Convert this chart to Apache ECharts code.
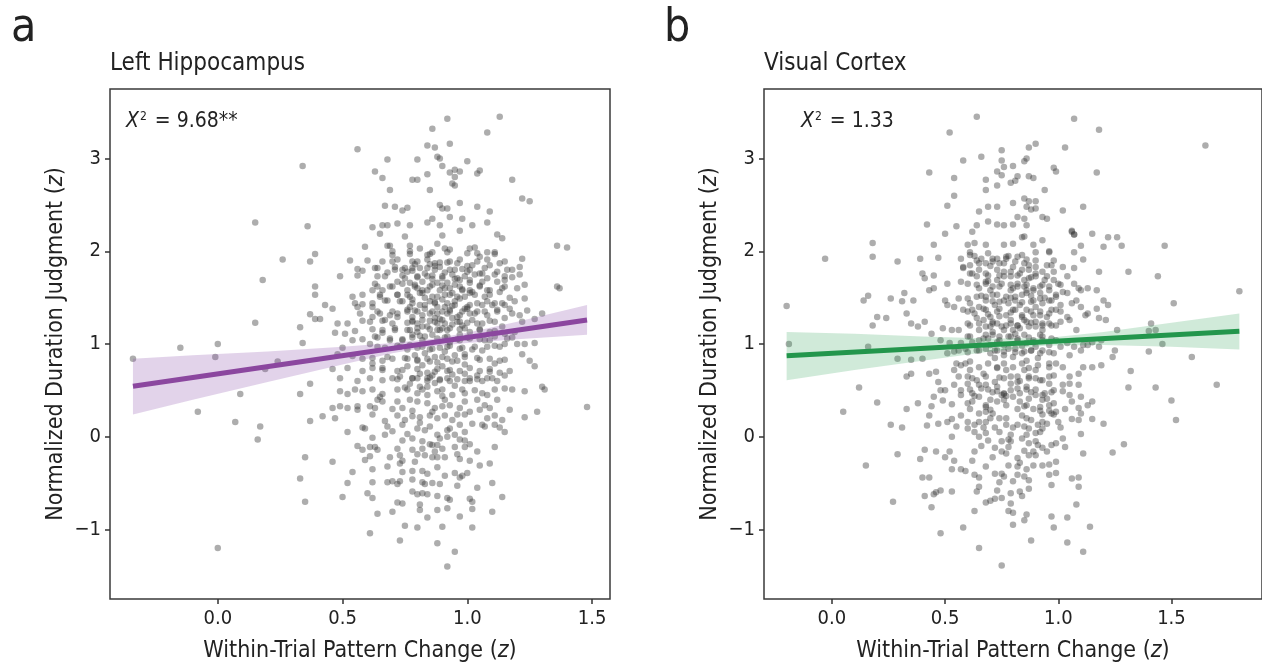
<!DOCTYPE html>
<html>
<head>
<meta charset="utf-8">
<script src="https://cdn.jsdelivr.net/npm/echarts@6/dist/echarts.min.js"></script>
<style>
html,body{margin:0;padding:0;background:#fff;}
#chart{width:1262px;height:668px;}
</style>
</head>
<body>
<div id="chart"></div>
<script>
// ---------- Data ----------
var xTicks = [0, 0.5, 1, 1.5];
var yTicks = [-1, 0, 1, 2, 3];

var hippoPoints = [
[-0.34,0.84],[-0.15,0.96],[0.00,1.00],[-0.01,0.86],[-0.08,0.27],[0.07,0.16],[0.00,-1.20],[0.09,0.46],[0.15,2.31],[0.15,1.23],
[0.18,1.69],[0.17,0.11],[0.16,-0.03],[0.19,0.73],[0.24,0.81],[0.26,1.91],[0.34,2.92],[0.36,2.27],[0.33,1.18],[0.34,1.01],
[0.33,0.46],[0.37,0.17],[0.37,0.57],[0.35,-0.22],[0.33,-0.45],[0.35,-0.70],[0.39,1.97],[0.37,1.89],[0.39,1.62],[0.39,1.53],
[0.37,1.32],[0.39,1.27],[0.41,1.27],[0.43,1.42],[0.42,0.22],
[0.56,3.10],[0.63,2.86],[0.66,2.79],[0.68,2.99],[0.69,2.66],[0.67,2.49],[0.71,2.48],[0.74,2.44],[0.76,2.47],[0.66,2.28],
[0.68,2.28],[0.62,2.26],[0.72,2.30],[0.65,2.19],[0.75,2.16],[0.77,2.28],[0.80,2.99],[0.78,2.77],[0.80,2.77],[0.84,3.14],
[0.87,3.12],[0.86,3.32],[0.92,3.43],[0.93,3.16],[0.88,3.02],[0.89,3.00],[0.90,2.92],[0.84,2.83],[0.85,2.66],[0.93,2.85],
[0.95,2.88],[0.97,2.86],[0.95,2.80],[1.00,2.97],[0.94,2.73],[0.95,2.71],[1.04,2.84],[1.05,2.87],[1.08,3.28],[1.13,3.45],
[1.18,2.77],[1.22,2.57],[1.25,2.54],[1.36,2.06],[1.40,2.04],[1.09,2.43],[1.04,2.48],[0.97,2.52],[0.89,2.50],[0.90,2.46],
[0.92,2.46],[0.93,2.37],[0.98,2.35],[1.08,2.31],[1.12,2.18],[1.14,2.14],[1.02,2.28],[0.86,2.35],[0.84,2.31],[0.90,2.17],
[0.89,2.28],[0.97,2.22],
[1.36,1.62],[1.37,1.60],[1.30,1.33],[1.27,1.27],[1.27,1.01],[1.27,0.76],[1.30,0.54],[1.31,0.51],[1.48,0.32],[1.28,0.27],
[1.02,-0.98],[0.97,-0.86],[0.95,-1.24],[0.92,-1.40],[0.88,-1.15],[0.90,-0.97],[0.84,-0.87],[0.80,-0.98],[0.75,-0.96],[0.73,-1.12],
[0.61,-1.04],[0.70,-0.81],[1.10,-0.81],
[0.59,2.05],[0.68,2.06],[0.69,2.06],[0.77,2.06],[0.81,2.03],[0.88,2.08],[0.91,2.03],[0.93,2.02],[1.01,2.03],[1.03,2.04],
[1.04,1.98],[1.08,1.99],[1.11,1.97],[1.22,1.92],[0.85,1.97],[0.86,1.99],[0.77,1.97],[0.70,1.96],
[0.53,1.90],[0.60,1.90],[0.66,1.89],[0.70,1.89],[0.78,1.89],[0.84,1.91],[0.85,1.86],[0.89,1.88],[0.92,1.88],[0.96,1.87],
[1.00,1.84],[1.04,1.89],[1.08,1.91],[1.15,1.89],[0.56,1.81],[0.58,1.79],[0.63,1.82],[0.71,1.80],[0.74,1.80],[0.76,1.78],
[0.78,1.79],[0.81,1.82],[0.87,1.80],[0.93,1.80],[0.98,1.81],[1.01,1.80],[1.07,1.82],[1.18,1.80],[1.21,1.83],
[0.49,1.73],[0.56,1.74],[0.64,1.73],[0.68,1.77],[0.75,1.71],[0.80,1.72],[0.84,1.73],[0.86,1.70],[0.90,1.73],[0.94,1.75],
[0.99,1.73],[1.03,1.75],[1.06,1.76],[1.11,1.75],[1.15,1.73],[1.18,1.72],[1.21,1.75],[0.72,1.67],[0.77,1.66],[0.82,1.67],
[0.88,1.66],[0.92,1.66],[0.97,1.69],[1.01,1.66],[1.12,1.67],[1.06,1.67],
[0.64,1.62],[0.66,1.58],[0.62,1.58],[0.70,1.62],[0.76,1.58],[0.80,1.60],[0.85,1.62],[0.89,1.58],[0.93,1.60],[0.97,1.62],
[1.01,1.58],[1.05,1.63],[1.08,1.58],[1.15,1.62],[1.20,1.60],[1.23,1.64],[0.54,1.51],[0.58,1.53],[0.65,1.51],[0.72,1.53],
[0.77,1.51],[0.82,1.55],[0.86,1.51],[0.91,1.53],[0.96,1.51],[1.01,1.55],[1.03,1.53],[1.09,1.53],[1.17,1.50],
[0.55,1.44],[0.58,1.43],[0.56,1.40],[0.62,1.40],[0.67,1.47],[0.74,1.46],[0.77,1.40],[0.81,1.42],[0.85,1.46],[0.88,1.40],
[0.92,1.44],[0.95,1.46],[0.99,1.38],[1.01,1.42],[1.06,1.42],[1.08,1.46],[1.11,1.44],[1.15,1.42],[1.19,1.46],[1.23,1.49],
[0.46,1.38],
[0.57,1.33],[0.65,1.33],[0.69,1.31],[0.72,1.33],[0.76,1.35],[0.78,1.29],[0.82,1.31],[0.86,1.35],[0.89,1.27],[0.92,1.33],
[0.97,1.31],[1.01,1.33],[1.04,1.35],[1.08,1.31],[1.12,1.35],[1.18,1.33],[1.21,1.31],[1.24,1.36],[0.52,1.22],[0.48,1.22],
[0.58,1.25],[0.61,1.24],[0.66,1.25],[0.70,1.22],[0.76,1.23],[0.80,1.22],[0.85,1.25],[0.88,1.22],[0.91,1.22],[0.96,1.24],
[1.00,1.23],[1.04,1.22],[1.09,1.25],[1.22,1.24],
[0.47,1.12],[0.51,1.11],[0.55,1.14],[0.62,1.16],[0.66,1.12],[0.71,1.15],[0.77,1.15],[0.80,1.13],[0.85,1.16],[0.88,1.15],
[0.92,1.15],[0.97,1.16],[1.01,1.13],[1.05,1.16],[1.11,1.14],[1.15,1.11],[1.18,1.07],[1.19,1.13],[0.54,1.04],[0.58,1.05],
[0.64,1.07],[0.69,1.04],[0.74,1.05],[0.78,1.07],[0.82,1.04],[0.91,1.07],[0.96,1.05],[1.00,1.07],[1.05,1.05],[1.09,1.04],
[0.50,0.96],[0.61,1.00],[0.67,0.96],[0.72,0.98],[0.76,0.94],[0.80,0.96],[0.85,0.94],[0.89,0.96],[0.93,0.98],[0.98,0.96],
[1.02,0.94],[1.06,0.93],[1.11,0.98],[1.15,1.00],[1.20,1.00],[1.23,1.00],[0.48,0.89],[0.54,0.87],
[0.58,0.84],[0.62,0.85],[0.66,0.82],[0.70,0.84],[0.75,0.85],[0.80,0.82],[0.84,0.84],[0.88,0.80],[0.92,0.84],[0.96,0.82],
[0.99,0.89],[1.04,0.85],[1.09,0.84],[1.13,0.82],[1.22,0.89],[1.25,0.82],
[0.46,0.73],[0.52,0.74],[0.58,0.71],[0.62,0.74],[0.66,0.74],[0.72,0.71],[0.76,0.76],[0.80,0.73],[0.84,0.69],[0.88,0.73],
[0.92,0.71],[0.97,0.71],[1.01,0.74],[1.05,0.71],[1.09,0.73],[1.13,0.69],[1.17,0.71],[0.49,0.63],[0.56,0.60],[0.61,0.63],
[0.66,0.61],[0.72,0.62],[0.78,0.63],[0.84,0.60],[0.89,0.62],[0.93,0.60],[0.99,0.60],[1.04,0.62],[1.08,0.63],[1.12,0.60],
[0.73,0.65],[0.80,0.63],[0.85,0.64],[0.89,0.61],[0.81,0.54],[0.87,0.58],[0.96,0.62],[1.01,0.60],[1.06,0.60],[1.10,0.63],
[0.49,0.49],[0.52,0.46],[0.55,0.51],[0.58,0.49],[0.62,0.51],[0.64,0.40],[0.65,0.43],[0.66,0.46],[0.72,0.51],[0.75,0.53],
[0.76,0.51],[0.80,0.47],[0.82,0.51],[0.84,0.54],[0.88,0.49],[0.90,0.51],[0.94,0.45],[0.98,0.51],[0.99,0.47],[1.03,0.50],
[1.06,0.47],[1.08,0.45],[1.11,0.51],[1.15,0.52],[1.18,0.51],[1.23,0.49],
[0.46,0.31],[0.49,0.33],[0.52,0.31],[0.56,0.33],[0.61,0.33],[0.63,0.31],[0.66,0.38],[0.72,0.38],[0.74,0.31],[0.77,0.40],
[0.80,0.38],[0.84,0.36],[0.87,0.31],[0.90,0.33],[0.93,0.34],[0.97,0.31],[0.99,0.38],[1.04,0.40],[1.07,0.34],[1.09,0.31],
[1.12,0.40],[1.17,0.29],[0.47,0.20],
[0.56,0.29],[0.62,0.24],[0.67,0.17],[0.72,0.23],[0.75,0.18],[0.78,0.22],[0.81,0.21],[0.85,0.23],[0.88,0.20],[0.91,0.23],
[0.96,0.24],[0.99,0.24],[1.01,0.27],[1.05,0.29],[1.08,0.20],[1.11,0.23],[1.14,0.18],[1.23,0.21],
[0.52,0.05],[0.58,0.10],[0.59,0.09],[0.68,0.11],[0.74,0.13],[0.76,0.03],[0.80,0.09],[0.83,0.07],[0.85,0.11],[0.88,0.02],
[0.92,0.07],[0.93,0.09],[0.97,0.13],[0.99,0.05],[1.02,0.14],[1.06,0.13],[1.07,0.11],[1.11,0.13],[1.13,0.10],[1.15,0.05],
[0.62,-0.01],[0.67,0.02],[0.74,-0.04],[0.78,-0.02],[0.82,-0.05],[0.85,-0.08],[0.89,-0.02],[0.92,0.00],[0.97,-0.03],[0.99,-0.04],
[1.01,-0.08],[0.56,-0.10],[0.58,-0.14],[0.61,-0.11],[0.63,-0.11],[0.64,-0.14],[0.72,-0.13],[0.78,-0.14],[0.82,-0.13],[0.86,-0.09],
[0.88,-0.09],[0.90,-0.13],[0.95,-0.11],[0.99,-0.11],[1.04,-0.16],[1.11,-0.11],
[0.59,-0.25],[0.61,-0.21],[0.69,-0.22],[0.73,-0.20],[0.74,-0.26],[0.80,-0.19],[0.83,-0.20],[0.86,-0.22],[0.88,-0.22],[0.91,-0.22],
[0.96,-0.19],[0.97,-0.24],[1.01,-0.26],[1.05,-0.31],[1.09,-0.29],[0.46,-0.27],
[0.54,-0.38],[0.62,-0.35],[0.68,-0.32],[0.73,-0.29],[0.74,-0.38],[0.78,-0.37],[0.82,-0.37],[0.84,-0.40],[0.88,-0.33],[0.91,-0.42],
[0.95,-0.39],[0.98,-0.42],[1.00,-0.39],
[0.52,-0.50],[0.62,-0.49],[0.68,-0.49],[0.70,-0.48],[0.72,-0.51],[0.73,-0.48],[0.78,-0.46],[0.82,-0.49],[0.83,-0.51],[0.86,-0.50],
[0.89,-0.51],[0.96,-0.53],[0.97,-0.44],[1.04,-0.55],[1.10,-0.50],
[0.50,-0.65],[0.60,-0.61],[0.62,-0.66],[0.72,-0.71],[0.74,-0.72],[0.78,-0.59],[0.80,-0.62],[0.82,-0.61],[0.84,-0.62],[0.88,-0.64],
[0.92,-0.66],[0.93,-0.68],[1.01,-0.67],[1.02,-0.70],[1.14,-0.65],
[0.64,-0.83],[0.81,-0.73],[0.81,-0.79],[0.88,-0.79],[0.92,-0.77],[1.02,-0.78],
[0.79,1.86],[0.83,1.76],[0.87,1.84],[0.91,1.77],[0.95,1.70],[0.79,1.64],[0.84,1.58],[0.90,1.63],[0.94,1.55],[0.98,1.59],
[0.78,1.48],[0.83,1.50],[0.87,1.45],[0.90,1.48],[0.94,1.41],[0.97,1.49],[0.79,1.36],[0.83,1.38],[0.88,1.33],[0.93,1.37],
[0.96,1.29],[1.00,1.38],[0.78,1.25],[0.82,1.19],[0.87,1.28],[0.90,1.17],[0.94,1.21],[0.98,1.20],[0.81,1.09],[0.86,1.10],
[0.93,1.02],[0.97,1.10],[0.79,0.88],[0.83,0.90],[0.87,0.86],[0.91,0.92],[0.95,0.88],[0.82,0.77],[0.86,0.66],[0.90,0.76],
[0.94,0.67],[0.99,0.78],[0.77,0.57],[0.84,0.45],[0.91,0.40],[0.95,0.55],
[0.70,2.00],[0.77,2.00],[0.84,1.96],[0.92,1.99],[1.00,1.98],[1.05,1.94],[1.11,1.99],[0.72,1.91],[0.80,1.89],[0.87,1.87],
[0.93,1.89],[0.97,1.91],[1.02,1.85],[1.09,1.85],[1.13,1.87],
[0.64,1.82],[0.71,1.83],[0.75,1.82],[0.78,1.82],[0.84,1.82],[0.89,1.83],[0.95,1.80],[1.00,1.78],[1.05,1.76],[1.12,1.78],
[1.16,1.80],[0.67,1.73],[0.74,1.74],[0.80,1.73],[0.86,1.74],[0.90,1.71],[0.96,1.71],[1.01,1.69],[1.08,1.71],[1.15,1.69],
[0.63,1.65],[0.69,1.62],[0.74,1.65],[0.79,1.62],[0.82,1.58],[0.86,1.64],[0.91,1.60],[0.95,1.64],[0.98,1.58],[1.02,1.56],
[1.05,1.62],[1.09,1.58],[1.14,1.60],[0.65,1.53],[0.72,1.53],[0.76,1.53],[0.81,1.55],[0.88,1.51],[0.93,1.53],[0.99,1.51],
[1.07,1.51],[1.13,1.56],
[0.62,1.44],[0.68,1.47],[0.73,1.46],[0.78,1.44],[0.83,1.42],[0.87,1.44],[0.91,1.40],[0.95,1.42],[1.00,1.40],[1.04,1.44],
[1.10,1.42],[1.14,1.44],[0.64,1.35],[0.70,1.35],[0.76,1.37],[0.80,1.35],[0.85,1.33],[0.90,1.35],[0.93,1.35],[0.98,1.35],
[1.03,1.33],[1.07,1.35],[1.12,1.37],[1.17,1.38],
[0.62,1.29],[0.67,1.26],[0.72,1.29],[0.78,1.24],[0.82,1.26],[0.87,1.24],[0.90,1.26],[0.94,1.28],[0.97,1.24],[1.02,1.26],
[1.06,1.22],[1.11,1.24],[1.15,1.28],[0.66,1.15],[0.71,1.17],[0.76,1.15],[0.80,1.17],[0.84,1.19],[0.89,1.15],[0.93,1.17],
[0.99,1.17],[1.05,1.15],[1.09,1.13],[1.14,1.19],
[0.63,1.08],[0.69,1.06],[0.74,1.04],[0.78,1.10],[0.83,1.08],[0.88,1.06],[0.92,1.08],[0.97,1.04],[1.01,1.06],[1.07,1.04],
[1.11,1.08],[1.16,1.06],[0.64,0.97],[0.73,0.97],[0.77,0.99],[0.82,0.97],[0.86,0.95],[0.92,0.97],[0.97,0.95],[1.03,0.97],
[1.08,0.97],[1.13,0.97],
[0.62,0.79],[0.68,0.86],[0.76,0.84],[0.80,0.83],[0.85,0.81],[0.90,0.86],[0.94,0.81],[0.99,0.86],[1.05,0.83],[1.11,0.79],
[1.15,0.83],[0.66,0.72],[0.74,0.72],[0.81,0.68],[0.87,0.70],[0.93,0.72],[0.99,0.68],[1.04,0.66],[1.09,0.70],[1.15,0.66],
[0.70,0.63],[0.78,0.63],[0.84,0.63],[0.92,0.63],[1.01,0.63],
[0.70,0.30],[0.78,0.28],[0.86,0.27],[0.94,0.18],[0.90,0.44],[0.81,0.15],[0.70,0.06],[0.95,0.02],[0.87,-0.16],[0.79,-0.27]
];

var visualPoints = [
[-0.20,1.41],[-0.19,1.00],[-0.03,1.92],[0.05,0.27],[0.12,0.53],[0.15,-0.31],[0.14,1.47],[0.16,1.52],[0.16,0.97],
[0.64,3.45],[0.52,3.28],[0.43,2.85],[0.54,2.79],[0.58,2.98],[0.66,3.02],[0.75,3.09],[0.75,2.98],[0.76,2.91],[0.73,2.86],
[0.75,2.82],[0.68,2.77],[0.73,2.71],[0.68,2.66],[0.79,2.74],[0.81,2.76],[0.82,2.81],[0.80,2.92],[0.85,2.97],[0.86,3.00],
[0.87,3.12],[0.90,3.16],[0.87,2.81],[0.89,2.79],[0.94,2.66],[0.98,2.90],[0.99,2.86],[1.03,3.12],[1.07,3.43],[1.18,3.31],
[1.17,2.85],[1.11,2.48],[1.02,2.44],[1.06,2.22],[1.07,2.18],[1.65,3.14],[0.51,2.49],[0.54,2.60],[0.42,2.29],[0.55,2.27],
[0.65,2.43],[0.69,2.48],[0.73,2.48],[0.80,2.52],[0.85,2.57],[0.87,2.54],[0.90,2.54],[0.86,2.48],[0.88,2.45],[0.90,2.46],
[0.82,2.37],[0.85,2.35],[0.93,2.37],[0.95,2.35],[0.69,2.32],[0.73,2.29],[0.76,2.28],[0.80,2.29],[0.86,2.28],[0.64,2.28],
[1.26,2.15],[1.28,2.06],[1.47,2.06],[1.44,1.73],[1.31,1.78],[1.51,1.44],[1.80,1.57],[1.41,1.22],[1.43,1.15],[1.40,1.14],
[1.46,1.00],[1.40,0.92],[1.26,1.15],[1.25,0.93],[1.24,0.86],[1.59,0.86],[1.32,0.71],[1.31,0.53],[1.43,0.53],[1.70,0.56],
[1.50,0.39],[1.52,0.18],[1.29,-0.08],[1.24,-0.17],
[0.65,-1.20],[0.75,-1.39],[1.11,-1.24],
[0.50,2.19],[0.62,2.21],[0.18,2.09],[0.45,2.07],[0.60,2.07],[0.63,2.09],[0.68,2.07],[0.76,2.07],[0.80,2.08],[0.84,2.15],
[0.85,2.16],[0.89,2.07],[0.93,2.12],[0.96,2.00],[1.06,2.21],[1.07,2.18],[1.15,2.19],[1.10,2.06],[1.20,2.05],[1.22,2.15],
[0.18,1.94],[0.29,1.89],[0.39,1.92],[0.47,1.93],[0.61,1.99],[0.63,1.95],[0.69,1.98],[0.73,1.92],[0.77,1.92],[0.82,1.94],
[0.85,1.87],[0.86,1.91],[0.90,1.99],[0.96,1.99],[0.97,1.85],[1.02,1.83],[1.07,1.99],[1.11,1.91],[1.18,1.78],[1.07,1.82],
[0.58,1.83],[0.61,1.85],[0.65,1.87],[0.70,1.84],[0.76,1.87],[0.80,1.83],[0.90,1.83],
[0.40,1.76],[0.45,1.74],[0.41,1.71],[0.51,1.65],[0.57,1.67],[0.61,1.76],[0.64,1.73],[0.68,1.76],[0.68,1.65],[0.73,1.69],
[0.76,1.78],[0.79,1.73],[0.82,1.74],[0.85,1.69],[0.87,1.80],[0.90,1.73],[0.93,1.78],[0.94,1.69],[0.98,1.69],[1.01,1.64],
[1.04,1.73],[1.07,1.65],[1.09,1.60],[1.10,1.58],[1.13,1.60],[1.17,1.58],[0.65,1.60],[0.70,1.58],[0.74,1.62],[0.79,1.64],
[0.82,1.62],[0.86,1.64],[0.89,1.60],[0.92,1.62],[0.96,1.58],[1.02,1.56],
[0.26,1.49],[0.32,1.55],[0.31,1.46],[0.36,1.47],[0.33,1.33],[0.43,1.58],[0.45,1.60],[0.50,1.47],[0.51,1.42],[0.56,1.49],
[0.60,1.49],[0.61,1.44],[0.65,1.40],[0.68,1.51],[0.71,1.46],[0.73,1.53],[0.76,1.47],[0.78,1.44],[0.81,1.51],[0.83,1.42],
[0.86,1.55],[0.89,1.47],[0.90,1.40],[0.93,1.44],[0.97,1.47],[0.99,1.53],[1.01,1.42],[1.04,1.55],[1.06,1.44],[1.08,1.47],
[1.10,1.40],[1.13,1.33],[1.17,1.38],[1.20,1.47],[1.22,1.42],[0.54,1.40],[0.58,1.37],[0.62,1.37],[0.68,1.37],[0.74,1.38],
[0.80,1.37],[0.86,1.37],[0.92,1.35],[0.97,1.37],[1.01,1.35],
[0.18,1.20],[0.20,1.29],[0.24,1.28],[0.35,1.22],[0.38,1.19],[0.41,1.24],[0.49,1.17],[0.53,1.15],[0.56,1.15],[0.60,1.22],
[0.64,1.28],[0.67,1.26],[0.70,1.19],[0.73,1.22],[0.76,1.15],[0.79,1.26],[0.82,1.20],[0.85,1.26],[0.87,1.19],[0.90,1.24],
[0.93,1.15],[0.96,1.22],[0.99,1.20],[1.04,1.29],[1.05,1.26],[1.08,1.15],[1.12,1.31],[1.18,1.28],[1.21,1.26],[0.65,1.15],
[0.71,1.13],[0.80,1.15],
[0.48,1.04],[0.52,1.01],[0.57,1.01],[0.61,1.08],[0.65,1.04],[0.69,1.06],[0.73,1.02],[0.76,0.99],[0.79,1.08],[0.82,1.04],
[0.86,1.01],[0.90,0.97],[0.93,1.04],[0.96,0.99],[0.99,1.04],[1.04,1.01],[1.07,0.97],[1.11,0.99],[1.15,1.02],[1.19,1.04],
[0.54,0.92],[0.59,0.95],[0.64,0.93],[0.68,0.95],[0.72,0.93],[0.76,0.92],[0.81,0.95],[0.85,0.92],[0.88,0.93],[0.93,0.93],
[0.98,0.90],[1.01,0.97],[1.05,0.88],[1.10,0.93],[1.13,0.99],[1.18,0.97],[0.44,1.11],[0.51,0.90],
[0.29,0.84],[0.35,0.83],[0.40,0.84],[0.33,0.65],[0.35,0.68],[0.43,0.68],[0.46,0.70],[0.47,0.59],[0.54,0.72],[0.55,0.79],
[0.59,0.79],[0.56,0.65],[0.61,0.72],[0.62,0.63],[0.67,0.68],[0.68,0.56],[0.73,0.75],[0.77,0.72],[0.82,0.65],[0.85,0.72],
[0.87,0.65],[0.90,0.72],[0.93,0.61],[0.96,0.79],[0.98,0.66],[1.02,0.75],[1.05,0.65],[1.09,0.68],[1.11,0.75],[1.15,0.75],
[1.19,0.77],[1.05,0.57],[0.96,0.57],[0.86,0.54],[0.79,0.57],[0.73,0.54],[0.65,0.56],[0.60,0.57],[0.54,0.56],[1.02,0.56],
[1.09,0.56],
[0.20,0.37],[0.33,0.30],[0.38,0.36],[0.45,0.43],[0.49,0.39],[0.53,0.35],[0.44,0.33],[0.43,0.23],[0.47,0.14],[0.51,0.16],
[0.53,0.19],[0.57,0.23],[0.60,0.36],[0.63,0.44],[0.65,0.43],[0.57,0.45],[0.50,0.50],[0.48,0.50],[0.61,0.51],[0.69,0.51],
[0.73,0.49],[0.76,0.47],[0.82,0.52],[0.86,0.51],[0.90,0.51],[0.94,0.47],[0.95,0.41],[0.97,0.48],[1.02,0.49],[1.05,0.45],
[1.10,0.43],[1.15,0.38],[1.13,0.34],[1.09,0.31],[1.10,0.25],[1.06,0.19],[1.09,0.18],[1.15,0.19],[1.20,0.14],[1.10,0.03],
[1.11,-0.18],[1.03,-0.11],[1.02,-0.02],[0.99,-0.07],[0.97,-0.09],[0.95,-0.16],[1.01,0.10],[1.00,0.16],[0.98,0.24],[0.96,0.28],
[0.93,0.24],[0.93,0.16],[0.93,0.09],[0.91,-0.09],[0.90,0.04],[0.87,-0.07],[0.86,0.02],[0.85,0.11],[0.86,0.20],[0.84,0.23],
[0.82,0.13],[0.82,0.30],[0.86,0.34],[0.89,0.30],[0.92,0.32],[0.79,0.02],[0.78,-0.11],[0.78,-0.03],[0.75,-0.05],[0.72,-0.12],
[0.75,-0.16],[0.69,-0.04],[0.68,0.04],[0.67,0.10],[0.65,0.00],[0.72,0.10],[0.74,0.20],[0.77,0.13],[0.77,0.20],[0.68,0.16],
[0.65,0.16],[0.63,0.13],[0.60,0.09],[0.55,0.11],[0.53,0.00],[0.63,0.05],[0.68,0.27],[0.68,0.32],[0.71,0.25],[0.65,0.25],
[0.61,0.30],[0.60,0.16],[0.77,0.34],[0.76,0.40],[0.70,0.40],[0.26,0.13],[0.31,0.10],[0.42,0.12],
[0.29,-0.19],[0.39,-0.24],[0.41,-0.14],[0.46,-0.16],[0.50,-0.22],[0.52,-0.16],[0.54,-0.26],[0.53,-0.35],[0.57,-0.35],[0.59,-0.37],
[0.62,-0.26],[0.63,-0.16],[0.68,-0.32],[0.63,-0.41],[0.65,-0.44],[0.75,-0.40],[0.76,-0.43],[0.74,-0.49],[0.78,-0.31],[0.82,-0.23],
[0.83,-0.28],[0.87,-0.20],[0.89,-0.31],[0.90,-0.20],[0.82,-0.41],[0.85,-0.43],[0.87,-0.47],[0.93,-0.31],[0.99,-0.27],[0.96,-0.41],
[0.99,-0.39],[0.97,-0.52],[1.06,-0.45],[1.09,-0.44],[1.09,-0.54],[0.40,-0.44],[0.43,-0.44],[0.53,-0.59],[0.48,-0.58],[0.46,-0.60],
[0.45,-0.62],[0.41,-0.64],[0.27,-0.70],[0.44,-0.76],[0.64,-0.59],[0.65,-0.54],[0.73,-0.58],[0.79,-0.61],[0.83,-0.59],[0.84,-0.64],
[0.87,-0.56],[0.68,-0.71],[0.70,-0.69],[0.72,-0.67],[0.75,-0.66],[0.79,-0.72],[0.78,-0.80],[0.80,-0.82],[0.63,-0.80],[0.86,-0.84],
[0.85,-0.90],[0.80,-0.95],[0.97,-0.86],[1.04,-0.87],[1.08,-0.73],[1.14,-0.97],[0.98,-0.98],[0.88,-1.12],[1.04,-1.14],[0.58,-0.98],
[0.48,-1.04],[0.89,-0.16],[0.82,-0.32],
[0.68,0.34],[0.70,0.29],[0.73,0.38],[0.76,0.46],[0.80,0.43],[0.83,0.38],[0.87,0.41],[0.90,0.45],[0.93,0.40],[0.96,0.34],
[0.97,0.25],[0.99,0.27],[0.91,0.13],[0.87,0.09],[0.90,-0.05],[0.79,-0.05],
[0.66,1.92],[0.71,1.89],[0.78,1.95],[0.84,1.80],[0.88,1.72],[0.74,1.74],[0.69,1.68],[0.80,1.60],[0.86,1.58],[0.92,1.55],
[0.66,1.52],[0.72,1.42],[0.79,1.50],[0.84,1.45],[0.88,1.52],[0.94,1.50],[0.69,1.32],[0.74,1.30],[0.79,1.34],[0.84,1.31],
[0.89,1.31],[0.95,1.29],[0.71,1.22],[0.77,1.20],[0.83,1.17],[0.88,1.23],[0.93,1.20],[0.68,1.10],[0.74,1.08],[0.81,1.11],
[0.87,1.07],[0.92,1.10],[0.70,0.99],[0.78,0.95],[0.84,0.98],[0.89,1.02],[0.72,0.85],[0.80,0.86],[0.86,0.82],[0.91,0.85],
[0.74,0.64],[0.83,0.60],[0.90,0.63],[0.77,0.44],[0.85,0.33],[0.92,0.28],
[0.57,1.92],[0.61,1.96],[0.64,1.90],[0.68,1.87],[0.71,1.92],[0.74,1.87],[0.77,1.94],[0.81,1.89],[0.84,1.96],[0.87,1.85],
[0.90,1.90],[0.95,1.85],[0.98,1.90],
[0.58,1.82],[0.62,1.76],[0.65,1.80],[0.69,1.74],[0.73,1.80],[0.76,1.73],[0.79,1.78],[0.83,1.76],[0.87,1.71],[0.90,1.76],
[0.95,1.73],[0.98,1.78],
[0.60,1.65],[0.64,1.64],[0.68,1.67],[0.71,1.62],[0.75,1.65],[0.79,1.58],[0.82,1.65],[0.85,1.62],[0.89,1.58],[0.93,1.64],
[0.96,1.62],[1.00,1.65],
[0.64,1.51],[0.68,1.47],[0.71,1.53],[0.74,1.455],[0.77,1.51],[0.81,1.47],[0.84,1.53],[0.88,1.455],[0.92,1.49],[0.96,1.47],
[0.99,1.51],
[0.60,1.35],[0.63,1.33],[0.67,1.38],[0.70,1.29],[0.73,1.35],[0.77,1.31],[0.81,1.37],[0.84,1.29],[0.88,1.35],[0.92,1.31],
[0.96,1.33],[0.99,1.37],
[0.61,1.20],[0.65,1.22],[0.68,1.19],[0.71,1.24],[0.75,1.19],[0.79,1.22],[0.82,1.20],[0.86,1.24],[0.90,1.19],[0.93,1.22],
[0.97,1.20],[1.01,1.24],
[0.60,1.08],[0.62,1.02],[0.67,1.06],[0.71,1.10],[0.74,1.04],[0.78,1.08],[0.82,1.06],[0.85,1.10],[0.89,1.04],[0.93,1.08],
[0.97,1.06],
[0.56,0.93],[0.60,0.91],[0.65,0.93],[0.70,0.90],[0.73,0.93],[0.76,0.88],[0.81,0.91],[0.84,0.90],[0.88,0.93],[0.92,0.90],
[0.96,0.91],
[0.57,0.77],[0.61,0.81],[0.65,0.75],[0.69,0.79],[0.73,0.74],[0.76,0.79],[0.80,0.75],[0.84,0.79],[0.87,0.74],[0.91,0.77],
[0.96,0.75],[0.99,0.79],
[0.60,0.65],[0.64,0.61],[0.68,0.65],[0.72,0.59],[0.76,0.63],[0.79,0.65],[0.82,0.59],[0.87,0.63],[0.92,0.61],[0.96,0.65],
[0.57,0.50],[0.62,0.47],[0.66,0.52],[0.71,0.48],[0.75,0.45],[0.79,0.50],[0.83,0.47],[0.88,0.48],[0.93,0.45],[0.98,0.50],
[0.62,0.38],[0.70,0.20],[0.74,0.05],[0.80,0.10],[0.84,-0.02],[0.88,0.18],[0.92,0.05],[0.95,0.14],[0.98,0.36],[1.03,0.30],
[1.06,0.38],[0.66,-0.10],[0.71,-0.22],[0.77,-0.18],[0.85,-0.15],[0.93,-0.12],[0.96,-0.30],[0.86,-0.35],[0.80,-0.48],[0.72,-0.40]
];

// fitted lines (end points) and confidence bands
var hippoFitX = [-0.34, 1.48];
var hippoFitY = [0.544, 1.258];
var hippoBandX = [-0.34, -0.1, 0.2, 0.5, 0.7, 0.85, 1.0, 1.2, 1.48];
var hippoBandLow = [0.24, 0.40, 0.59, 0.78, 0.90, 0.97, 1.01, 1.05, 1.10];
var hippoBandHigh = [0.84, 0.88, 0.92, 0.97, 1.01, 1.05, 1.12, 1.24, 1.42];

var visualFitX = [-0.2, 1.8];
var visualFitY = [0.873, 1.138];
var visualBandX = [-0.2, 0.1, 0.4, 0.7, 0.95, 1.2, 1.5, 1.8];
var visualBandLow = [0.61, 0.72, 0.82, 0.92, 0.985, 0.99, 0.97, 0.94];
var visualBandHigh = [1.13, 1.11, 1.08, 1.06, 1.065, 1.13, 1.23, 1.33];

// ---------- Chart ----------
var FONT = "'Liberation Sans Narrow','DejaVu Sans Condensed','Roboto',sans-serif";
var chart = echarts.init(document.getElementById('chart'), null, {renderer: 'canvas'});

function yFmt(v){ return v < 0 ? '\u2212' + Math.abs(v) : String(v); }
function xFmt(v){ return Number(v).toFixed(1); }

function makeX(idx, min, max){
  return {
    type: 'value', gridIndex: idx, min: min, max: max,
    name: 'Within-Trial Pattern Change ({i|z})',
    nameLocation: 'middle', nameGap: 41,
    nameTextStyle: {fontFamily: FONT, fontSize: 23, color: '#222',
      rich: {i: {fontFamily: FONT, fontSize: 23, fontStyle: 'italic', color: '#222'}}},
    splitLine: {show: false},
    axisLine: {show: false, onZero: false},
    axisTick: {show: true, length: 5, inside: false, customValues: xTicks, lineStyle: {color: '#333', width: 1.5}},
    axisLabel: {show: true, margin: 10, customValues: xTicks, formatter: xFmt, fontFamily: FONT, fontSize: 20, color: '#222'}
  };
}
function makeY(idx){
  return {
    type: 'value', gridIndex: idx, min: -1.75, max: 3.75,
    name: 'Normalized Duration Judgment ({i|z})',
    nameLocation: 'middle', nameGap: 42, nameRotate: 90,
    nameTextStyle: {fontFamily: FONT, fontSize: 23, color: '#222',
      rich: {i: {fontFamily: FONT, fontSize: 23, fontStyle: 'italic', color: '#222'}}},
    splitLine: {show: false},
    axisLine: {show: false, onZero: false},
    axisTick: {show: true, length: 5, inside: false, customValues: yTicks, lineStyle: {color: '#333', width: 1.5}},
    axisLabel: {show: true, margin: 9, customValues: yTicks, formatter: yFmt, fontFamily: FONT, fontSize: 20, color: '#222'}
  };
}

function bandSeries(idx, bx, lo, hi, color){
  return {
    type: 'custom', xAxisIndex: idx, yAxisIndex: idx, z: 3, silent: true,
    data: [[bx[0], lo[0]]],
    renderItem: function(params, api){
      var pts = [];
      for (var i = 0; i < bx.length; i++) pts.push(api.coord([bx[i], hi[i]]));
      for (var j = bx.length - 1; j >= 0; j--) pts.push(api.coord([bx[j], lo[j]]));
      return {type: 'polygon', shape: {points: pts}, style: {fill: color}};
    }
  };
}
function pairs(xs, ys){ return xs.map(function(x, i){ return [x, ys[i]]; }); }

var pointStyle = {color: 'rgba(50,50,50,0.5)', borderWidth: 0};

var option = {
  animation: false,
  backgroundColor: '#fff',
  grid: [
    {left: 110, top: 89, width: 500, height: 510, show: true, borderColor: '#3a3a3a', borderWidth: 1.5, backgroundColor: 'transparent'},
    {left: 764, top: 89, width: 500, height: 510, show: true, borderColor: '#3a3a3a', borderWidth: 1.5, backgroundColor: 'transparent'}
  ],
  xAxis: [makeX(0, -0.432, 1.572), makeX(1, -0.3, 1.9)],
  yAxis: [makeY(0), makeY(1)],
  series: [
    {type: 'scatter', xAxisIndex: 0, yAxisIndex: 0, symbol: 'circle', symbolSize: 6.5, itemStyle: pointStyle, data: hippoPoints, z: 2, silent: true},
    bandSeries(0, hippoBandX, hippoBandLow, hippoBandHigh, 'rgba(140,80,170,0.25)'),
    {type: 'line', xAxisIndex: 0, yAxisIndex: 0, data: pairs(hippoFitX, hippoFitY), symbol: 'none', lineStyle: {color: '#8b479f', width: 5}, z: 4, silent: true},
    {type: 'scatter', xAxisIndex: 1, yAxisIndex: 1, symbol: 'circle', symbolSize: 6.5, itemStyle: pointStyle, data: visualPoints, z: 2, silent: true},
    bandSeries(1, visualBandX, visualBandLow, visualBandHigh, 'rgba(40,160,80,0.22)'),
    {type: 'line', xAxisIndex: 1, yAxisIndex: 1, data: pairs(visualFitX, visualFitY), symbol: 'none', lineStyle: {color: '#23964c', width: 5}, z: 4, silent: true}
  ],
  graphic: [
    {type: 'text', left: 11, top: 6, style: {text: 'a', fontFamily: FONT, fontSize: 46, fill: '#222'}},
    {type: 'text', left: 664, top: 6, style: {text: 'b', fontFamily: FONT, fontSize: 46, fill: '#222'}},
    {type: 'text', left: 110, top: 52, style: {text: 'Left Hippocampus', fontFamily: FONT, fontSize: 24, fill: '#222'}},
    {type: 'text', left: 764, top: 52, style: {text: 'Visual Cortex', fontFamily: FONT, fontSize: 24, fill: '#222'}},
    {type: 'text', left: 126, top: 111, style: {text: '{i|X}{s|2} = 9.68**', fontFamily: FONT, fontSize: 21, fill: '#222',
      rich: {i: {fontFamily: FONT, fontSize: 21, fontStyle: 'italic', fill: '#222'}, s: {fontFamily: FONT, fontSize: 12, fill: '#222', verticalAlign: 'top', padding: [0, 2, 8, 1]}}}},
    {type: 'text', left: 801, top: 111, style: {text: '{i|X}{s|2} = 1.33', fontFamily: FONT, fontSize: 21, fill: '#222',
      rich: {i: {fontFamily: FONT, fontSize: 21, fontStyle: 'italic', fill: '#222'}, s: {fontFamily: FONT, fontSize: 12, fill: '#222', verticalAlign: 'top', padding: [0, 2, 8, 1]}}}}
  ]
};
chart.setOption(option);
</script>
</body>
</html>
